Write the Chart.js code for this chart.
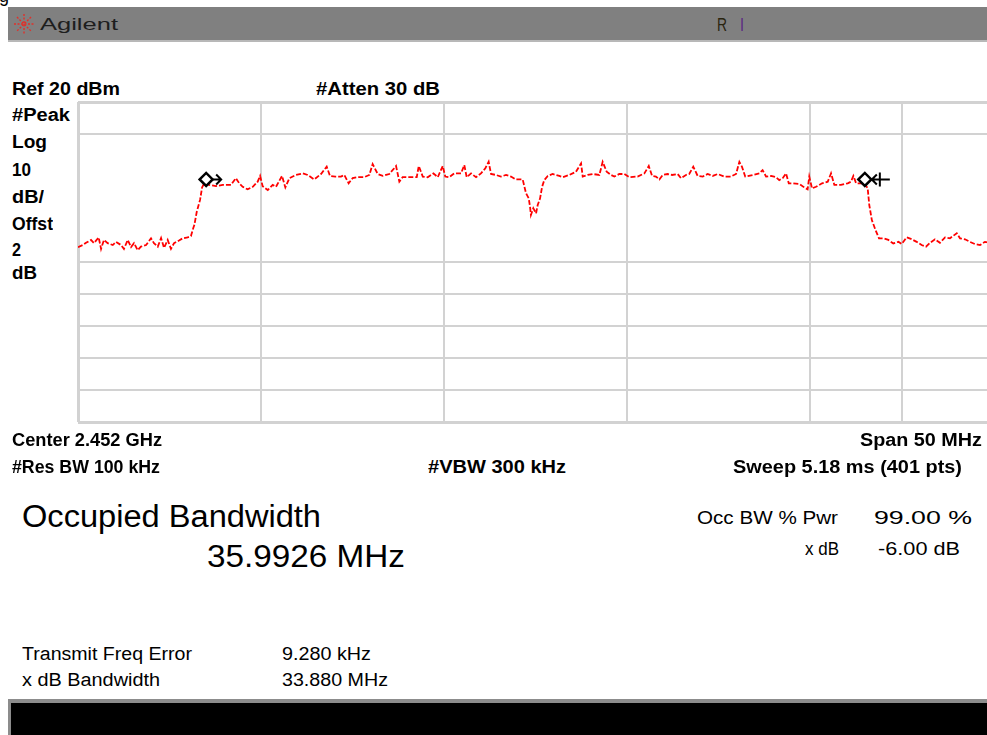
<!DOCTYPE html>
<html>
<head>
<meta charset="utf-8">
<script src="https://cdn.jsdelivr.net/npm/chart.js@4.4.1/dist/chart.umd.min.js"></script>
<style>
  html, body { margin: 0; padding: 0; background: #fff; overflow: hidden; width: 987px; height: 735px; }
  body { position: relative; font-family: "Liberation Sans", Arial, sans-serif; color: #000; }
  .lbl { position: absolute; white-space: nowrap; line-height: 1; transform-origin: 0 50%; }
  .b { font-weight: bold; }
  #header { position: absolute; left: 8px; top: 7px; width: 979px; height: 33px; background: #808080; border-bottom: 2px solid #b8b8b8; }
  #footer { position: absolute; left: 8px; top: 699px; width: 976px; height: 36px; background: #000; border-top: 4px solid #8c8c8c; border-left: 3px solid #8c8c8c; }
  #plot { position: absolute; left: 74px; top: 98px; }
</style>
</head>
<body>
<div class="lbl" style="left:-1px;top:-13px;font-size:18px;">g</div>
<div id="header"></div>
<svg style="position:absolute;left:13px;top:13px" width="22" height="22" viewBox="0 0 22 22">
  <g stroke="#e0302a" stroke-width="1.4" stroke-dasharray="2 1.5">
    <line x1="11" y1="1" x2="11" y2="21"/><line x1="1" y1="11" x2="21" y2="11"/>
    <line x1="4" y1="4" x2="18" y2="18"/><line x1="18" y1="4" x2="4" y2="18"/>
  </g>
</svg>
<div class="lbl" data-w="78" style="left:40px;top:16px;font-size:17px;color:#1e1e1e;">Agilent</div>
<div class="lbl" data-w="10" style="left:717px;top:15px;font-size:19px;color:#2a2410;">R</div>
<div class="lbl" data-w="4" style="left:740px;top:15px;font-size:19px;color:#5b2a84;">I</div>

<div class="lbl b" data-w="108" style="left:12px;top:79.5px;font-size:18px;">Ref 20 dBm</div>
<div class="lbl b" data-w="124" style="left:316px;top:79.5px;font-size:18px;">#Atten 30 dB</div>
<div class="lbl b" data-w="58" style="left:12px;top:106px;font-size:18px;">#Peak</div>
<div class="lbl b" data-w="35" style="left:12px;top:133px;font-size:18px;">Log</div>
<div class="lbl b" data-w="19" style="left:12px;top:160.5px;font-size:18px;">10</div>
<div class="lbl b" data-w="32" style="left:12px;top:187.5px;font-size:18px;">dB/</div>
<div class="lbl b" data-w="41" style="left:12px;top:214.5px;font-size:18px;">Offst</div>
<div class="lbl b" data-w="9" style="left:12px;top:241px;font-size:18px;">2</div>
<div class="lbl b" data-w="25" style="left:12px;top:263.5px;font-size:18px;">dB</div>

<canvas id="plot" width="923" height="328"></canvas>

<div class="lbl b" data-w="150" style="left:12px;top:430.5px;font-size:18px;">Center 2.452 GHz</div>
<div class="lbl b" data-w="122" style="left:860px;top:430.5px;font-size:18px;">Span 50 MHz</div>
<div class="lbl b" data-w="148" style="left:12px;top:458px;font-size:18px;">#Res BW 100 kHz</div>
<div class="lbl b" data-w="138" style="left:428px;top:458px;font-size:18px;">#VBW 300 kHz</div>
<div class="lbl b" data-w="229" style="left:733px;top:458px;font-size:18px;">Sweep 5.18 ms (401 pts)</div>

<div class="lbl" data-w="299" style="left:22px;top:501px;font-size:31px;">Occupied Bandwidth</div>
<div class="lbl" data-w="198" style="left:207px;top:540.5px;font-size:31px;">35.9926 MHz</div>
<div class="lbl" data-w="141" style="left:697px;top:508px;font-size:19px;">Occ BW % Pwr</div>
<div class="lbl" data-w="98" style="left:874px;top:508px;font-size:19px;">99.00 %</div>
<div class="lbl" data-w="34" style="left:805px;top:538.5px;font-size:19px;">x dB</div>
<div class="lbl" data-w="82" style="left:878px;top:538.5px;font-size:19px;">-6.00 dB</div>

<div class="lbl" data-w="170" style="left:22px;top:645px;font-size:18px;">Transmit Freq Error</div>
<div class="lbl" data-w="89" style="left:282px;top:645px;font-size:18px;">9.280 kHz</div>
<div class="lbl" data-w="138" style="left:22px;top:671px;font-size:18px;">x dB Bandwidth</div>
<div class="lbl" data-w="106" style="left:282px;top:671px;font-size:18px;">33.880 MHz</div>

<div id="footer"></div>

<script>
// Measured spectrum trace: frequency (MHz) and level (dBm)
const freqMHz = [
  2427.00, 2427.26, 2427.44, 2427.71, 2427.87, 2428.13, 2428.26, 2428.42, 2428.62, 2428.90,
  2429.08, 2429.35, 2429.51, 2429.72, 2429.90, 2430.06, 2430.26, 2430.44, 2430.72, 2430.99,
  2431.15, 2431.36, 2431.54, 2431.70, 2431.90, 2432.08, 2432.25, 2432.52, 2432.72, 2432.99,
  2433.17, 2433.30, 2433.36, 2433.49, 2433.67, 2433.78, 2433.90, 2434.17, 2434.54, 2434.91,
  2435.36, 2435.63, 2435.81, 2436.00, 2436.27, 2436.55, 2436.82, 2436.95, 2437.09, 2437.37,
  2437.64, 2437.82, 2438.15, 2438.33, 2438.55, 2438.91, 2439.28, 2439.55, 2439.91, 2440.28,
  2440.59, 2440.77, 2441.06, 2441.37, 2441.55, 2441.79, 2442.01, 2442.28, 2442.64, 2442.92,
  2443.10, 2443.38, 2443.65, 2444.01, 2444.28, 2444.38, 2444.56, 2444.74, 2445.20, 2445.51,
  2445.62, 2445.84, 2446.11, 2446.42, 2446.66, 2446.93, 2447.07, 2447.29, 2447.56, 2447.93,
  2448.11, 2448.24, 2448.48, 2448.75, 2449.02, 2449.26, 2449.44, 2449.57, 2449.84, 2450.11,
  2450.39, 2450.66, 2450.93, 2451.30, 2451.48, 2451.63, 2451.70, 2451.75, 2451.88, 2452.03,
  2452.12, 2452.25, 2452.36, 2452.48, 2452.67, 2452.94, 2453.30, 2453.48, 2453.85, 2454.21,
  2454.49, 2454.58, 2454.85, 2455.13, 2455.49, 2455.67, 2455.89, 2456.13, 2456.31, 2456.58,
  2456.85, 2457.13, 2457.58, 2457.95, 2458.19, 2458.37, 2458.58, 2458.77, 2458.95, 2459.22,
  2459.46, 2459.77, 2459.95, 2460.22, 2460.40, 2460.62, 2460.86, 2461.14, 2461.41, 2461.68,
  2461.96, 2462.32, 2462.68, 2462.96, 2463.14, 2463.28, 2463.46, 2463.87, 2464.23, 2464.41,
  2464.60, 2464.87, 2465.14, 2465.32, 2465.51, 2465.69, 2465.84, 2466.05, 2466.42, 2466.69,
  2466.87, 2466.96, 2467.11, 2467.33, 2467.66, 2467.97, 2468.15, 2468.33, 2468.69, 2469.06,
  2469.24, 2469.37, 2469.52, 2469.97, 2470.15, 2470.24, 2470.38, 2470.58, 2470.77, 2471.01,
  2471.28, 2471.55, 2471.83, 2472.01, 2472.28, 2472.56, 2472.83, 2473.10, 2473.34, 2473.56,
  2473.83, 2474.10, 2474.38, 2474.65, 2475.02, 2475.20, 2475.47, 2475.74, 2476.02, 2476.29,
  2476.56, 2477.00
];
const levelDbm = [
  -25.4, -24.7, -24.0, -23.1, -24.1, -22.3, -25.9, -23.1, -24.1, -24.7,
  -23.7, -24.7, -25.9, -23.1, -25.3, -24.1, -26.3, -25.2, -24.7, -22.6,
  -24.1, -25.2, -22.5, -25.6, -23.1, -25.9, -24.1, -23.3, -22.6, -22.3,
  -21.9, -19.4, -18.4, -14.3, -10.6, -6.7, -5.4, -5.9, -6.3, -5.9,
  -5.9, -3.8, -5.4, -6.5, -7.3, -6.5, -4.9, -3.1, -6.3, -7.5,
  -5.9, -6.5, -3.1, -6.7, -3.8, -2.8, -2.3, -2.8, -4.2, -2.5,
  -0.2, -3.1, -3.3, -3.3, -2.8, -5.4, -3.8, -3.5, -3.5, -2.8,
  0.6, -2.5, -3.1, -2.5, -0.7, 0.0, -4.9, -3.5, -3.5, -3.5,
  0.0, -3.3, -3.5, -2.3, -3.5, 0.0, -3.3, -3.5, -2.3, -2.3,
  0.3, -3.5, -2.3, -3.5, -2.3, -0.7, 1.3, -2.5, -2.8, -3.3,
  -2.8, -3.3, -4.2, -4.2, -8.5, -10.1, -12.7, -15.3, -13.2, -14.8,
  -12.2, -10.1, -6.5, -4.4, -3.1, -2.5, -3.1, -3.5, -2.8, -1.8,
  0.8, -3.3, -2.8, -2.5, -2.8, 1.3, -1.8, -2.8, -3.3, -2.5,
  -2.5, -3.5, -3.3, -2.3, 0.0, -3.1, -3.3, -4.2, -2.8, -2.5,
  -2.8, -2.5, -3.8, -2.8, -2.5, -0.2, -3.1, -3.3, -2.5, -3.1,
  -2.5, -3.3, -3.3, -2.5, 1.3, -0.2, -3.3, -2.8, -2.3, -1.3,
  -3.3, -3.1, -3.5, -4.4, -3.8, -2.3, -5.4, -5.4, -5.6, -6.7,
  -7.3, -3.3, -7.0, -6.5, -5.4, -4.9, -2.3, -5.9, -5.9, -5.4,
  -4.9, -3.1, -5.4, -5.4, -6.9, -12.2, -16.9, -20.0, -22.6, -22.6,
  -23.1, -24.2, -23.7, -24.4, -22.3, -22.9, -23.7, -24.7, -25.2, -24.0,
  -22.9, -24.0, -22.3, -22.6, -21.0, -22.6, -22.9, -23.7, -24.4, -24.7,
  -23.7, -24.2
];

// Occupied-bandwidth edge markers (center 2452 MHz, OBW 35.9926 MHz)
const markerMHz = [2434.0037, 2469.9963];
const markerDbm = [-4.2, -4.2];

// Screen graticule: Ref 20 dBm, 10 dB/div, span 2427–2477 MHz
const xMinMHz = 2427, xMaxMHz = 2477;
const yMinDbm = -80, yMaxDbm = 20;
const xGridMHz = [2427, 2437, 2447, 2457, 2467, 2472, 2477];
const yGridDbm = [20, 10, -30, -40, -50, -60, -70, -80];

// Graticule box on the page (left, top, width, height)
const AREA = { left: 78, top: 102, width: 915, height: 320 };
const PAD = 4;

// Arrows next to the OBW marker diamonds
const markerArrows = {
  id: 'markerArrows',
  afterDatasetsDraw(chart) {
    const c = chart.ctx, xs = chart.scales.x, ys = chart.scales.y;
    c.save();
    c.strokeStyle = '#000';
    c.lineWidth = 2;
    c.lineCap = 'butt';
    // left edge: arrow pointing right
    let x = xs.getPixelForValue(markerMHz[0]), y = ys.getPixelForValue(markerDbm[0]);
    c.beginPath();
    c.moveTo(x + 6, y); c.lineTo(x + 15, y);
    c.moveTo(x + 10, y - 5); c.lineTo(x + 15, y); c.lineTo(x + 10, y + 5);
    c.stroke();
    // right edge: arrow pointing left with a bar
    x = xs.getPixelForValue(markerMHz[1]); y = ys.getPixelForValue(markerDbm[1]);
    c.beginPath();
    c.moveTo(x + 6, y); c.lineTo(x + 25, y);
    c.moveTo(x + 12, y - 5); c.lineTo(x + 7, y); c.lineTo(x + 12, y + 5);
    c.moveTo(x + 15, y - 7); c.lineTo(x + 15, y + 7);
    c.stroke();
    c.restore();
  }
};

const gridStyle = (edges) => ({
  color: '#d2d2d2',
  lineWidth: (ctx) => (ctx.tick && edges.includes(ctx.tick.value)) ? 3 : 2,
  drawTicks: false
});

const canvas = document.getElementById('plot');
canvas.width = AREA.width + 2 * PAD;
canvas.height = AREA.height + 2 * PAD;

const chart = new Chart(canvas, {
  type: 'line',
  data: {
    datasets: [
      {
        data: freqMHz.map((f, i) => ({ x: f, y: levelDbm[i] })),
        borderColor: '#ff0000',
        borderWidth: 1.8,
        borderDash: [5, 2],
        pointRadius: 0,
        tension: 0,
        order: 2
      },
      {
        type: 'scatter',
        data: markerMHz.map((f, i) => ({ x: f, y: markerDbm[i] })),
        pointStyle: 'rectRot',
        pointRadius: 6.5,
        borderColor: '#000',
        backgroundColor: '#fff',
        borderWidth: 2.5,
        order: 1
      }
    ]
  },
  options: {
    responsive: false,
    maintainAspectRatio: false,
    animation: false,
    devicePixelRatio: 1,
    layout: { padding: PAD },
    plugins: { legend: { display: false }, tooltip: { enabled: false } },
    scales: {
      x: {
        type: 'linear', min: xMinMHz, max: xMaxMHz,
        afterBuildTicks: (s) => { s.ticks = xGridMHz.map(v => ({ value: v })); },
        ticks: { display: false },
        grid: gridStyle([xMinMHz, xMaxMHz]),
        border: { display: false }
      },
      y: {
        type: 'linear', min: yMinDbm, max: yMaxDbm,
        afterBuildTicks: (s) => { s.ticks = yGridDbm.map(v => ({ value: v })); },
        ticks: { display: false },
        grid: gridStyle([yMinDbm, yMaxDbm]),
        border: { display: false }
      }
    }
  },
  plugins: [markerArrows]
});

// Grow the canvas by whatever the axes reserve so the plotting area sits on the box
(function placeArea() {
  const ca = chart.chartArea;
  const eL = ca.left - PAD, eT = ca.top - PAD;
  const eR = (chart.width - PAD) - ca.right, eB = (chart.height - PAD) - ca.bottom;
  if (eL || eT || eR || eB) {
    const w = chart.width + eL + eR, h = chart.height + eT + eB;
    canvas.style.left = (AREA.left - PAD - eL) + 'px';
    canvas.style.top = (AREA.top - PAD - eT) + 'px';
    chart.resize(w, h);
  } else {
    canvas.style.left = (AREA.left - PAD) + 'px';
    canvas.style.top = (AREA.top - PAD) + 'px';
  }
})();

// Fit each text label to its column width
function fitLabels() {
  document.querySelectorAll('.lbl[data-w]').forEach(el => {
    el.style.transform = 'none';
    const w = el.getBoundingClientRect().width;
    const target = parseFloat(el.dataset.w);
    if (w > 0) el.style.transform = 'scaleX(' + (target / w).toFixed(4) + ')';
  });
}
fitLabels();
if (document.fonts && document.fonts.ready) document.fonts.ready.then(fitLabels);
</script>
</body>
</html>
